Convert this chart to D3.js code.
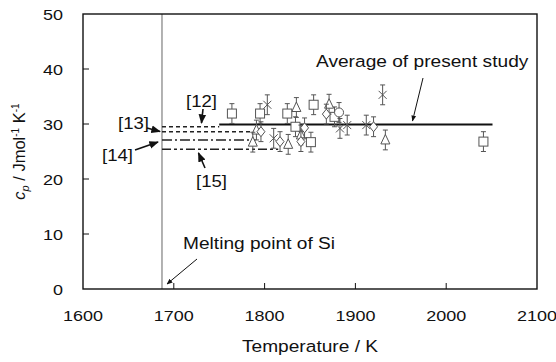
<!DOCTYPE html>
<html>
<head>
<meta charset="utf-8">
<script src="https://cdn.jsdelivr.net/npm/d3@7"></script>
<style>
  body { margin: 0; background: #fff; }
  svg { font-family: "Liberation Sans", Arial, sans-serif; }
</style>
</head>
<body>
<svg id="chart" width="556" height="362"></svg>
<script>
// x ticks and y ticks
const xTicks = [1600, 1700, 1800, 1900, 2000, 2100];
const yTicks = [0, 10, 20, 30, 40, 50];

// measured points (temperature K, cp J/mol/K)
const squareT = [1764, 1795, 1825, 1854, 1877, 1834, 1851, 2041];
const squareCp = [31.9, 31.9, 31.9, 33.5, 31.3, 29.5, 26.7, 26.8];
const triangleT = [1835, 1871, 1791, 1787, 1840, 1826, 1933];
const triangleCp = [33.0, 33.6, 28.9, 26.7, 28.0, 26.3, 27.1];
const crossT = [1803, 1883, 1891, 1912, 1930, 1810];
const crossCp = [33.5, 29.2, 29.8, 29.8, 35.3, 27.4];
const diamondT = [1868, 1796, 1817, 1844, 1840, 1920];
const diamondCp = [31.8, 28.6, 26.8, 29.3, 26.8, 29.5];
const circleT = [1882];
const circleCp = [32.1];
const errorBar = 1.8;

// average of present study
const avgCp = 29.9;
const avgRange = [1750, 2051];

// literature values
const litNames = ["[12]", "[13]", "[14]", "[15]"];
const litCp = [29.5, 28.6, 27.1, 25.4];
const litEnd = [1750, 1800, 1790, 1815];
const meltingT = 1687;

const svg = d3.select("#chart");
const margin = {left: 83, top: 14, right: 19, bottom: 73};
const W = 556 - margin.left - margin.right;
const H = 362 - margin.top - margin.bottom;
const SX = 1.16; // text in the original is a bit wide

const x = d3.scaleLinear().domain([1600, 2100]).range([margin.left, margin.left + W]);
const y = d3.scaleLinear().domain([0, 50]).range([margin.top + H, margin.top]);

const g = svg.append("g");

// melting line
g.append("line")
  .attr("x1", x(meltingT)).attr("x2", x(meltingT))
  .attr("y1", y(50)).attr("y2", y(0))
  .attr("stroke", "#666").attr("stroke-width", 1);

// literature lines
const dashes = ["4,3", "4,3", "10,3,2,3", "9,3,3,3,3,3"];
litCp.forEach((v, i) => {
  g.append("line")
    .attr("x1", x(meltingT)).attr("x2", x(litEnd[i]))
    .attr("y1", y(v)).attr("y2", y(v))
    .attr("stroke", "#222").attr("stroke-width", 1.5)
    .attr("stroke-dasharray", dashes[i]);
});

// average line
g.append("line")
  .attr("x1", x(avgRange[0])).attr("x2", x(avgRange[1]))
  .attr("y1", y(avgCp)).attr("y2", y(avgCp))
  .attr("stroke", "#111").attr("stroke-width", 2);

// error bars + markers
const pts = [];
squareT.forEach((t, i) => pts.push({t, v: squareCp[i], s: "square"}));
triangleT.forEach((t, i) => pts.push({t, v: triangleCp[i], s: "triangle"}));
crossT.forEach((t, i) => pts.push({t, v: crossCp[i], s: "cross"}));
diamondT.forEach((t, i) => pts.push({t, v: diamondCp[i], s: "diamond"}));
circleT.forEach((t, i) => pts.push({t, v: circleCp[i], s: "circle"}));

const mk = g.append("g").attr("stroke", "#555").attr("stroke-width", 1).attr("fill", "#fff");
pts.forEach(p => {
  const px = x(p.t), py = y(p.v);
  const top = y(p.v + errorBar), bot = y(p.v - errorBar);
  mk.append("line").attr("x1", px).attr("x2", px).attr("y1", top).attr("y2", bot);
  mk.append("line").attr("x1", px - 2.5).attr("x2", px + 2.5).attr("y1", top).attr("y2", top);
  mk.append("line").attr("x1", px - 2.5).attr("x2", px + 2.5).attr("y1", bot).attr("y2", bot);
  if (p.s === "square") {
    mk.append("rect").attr("x", px - 4.5).attr("y", py - 4.5).attr("width", 9).attr("height", 9);
  } else if (p.s === "triangle") {
    mk.append("path").attr("d", `M${px},${py - 5.5}L${px + 4.5},${py + 4}L${px - 4.5},${py + 4}Z`);
  } else if (p.s === "cross") {
    mk.append("path").attr("fill", "none")
      .attr("d", `M${px - 4},${py - 4}L${px + 4},${py + 4}M${px - 4},${py + 4}L${px + 4},${py - 4}`);
  } else if (p.s === "diamond") {
    mk.append("path").attr("d", `M${px},${py - 5}L${px + 4},${py}L${px},${py + 5}L${px - 4},${py}Z`);
  } else {
    mk.append("circle").attr("cx", px).attr("cy", py).attr("r", 4.5);
  }
});

// frame
g.append("rect")
  .attr("x", margin.left).attr("y", margin.top).attr("width", W).attr("height", H)
  .attr("fill", "none").attr("stroke", "#111").attr("stroke-width", 1.4);

// inside ticks
xTicks.slice(1, -1).forEach(t => {
  g.append("line").attr("x1", x(t)).attr("x2", x(t))
    .attr("y1", y(0)).attr("y2", y(0) - 6).attr("stroke", "#111");
});
yTicks.slice(1, -1).forEach(t => {
  g.append("line").attr("x1", x(1600)).attr("x2", x(1600) + 6)
    .attr("y1", y(t)).attr("y2", y(t)).attr("stroke", "#111");
});

function txt(tx, ty, s, size, anchor) {
  return g.append("text")
    .attr("transform", `translate(${tx},${ty}) scale(${SX},1)`)
    .attr("font-size", size).attr("fill", "#111")
    .attr("text-anchor", anchor || "start").text(s);
}

// tick labels
xTicks.forEach(d => txt(x(d), y(0) + 32, d, 15.5, "middle"));
yTicks.forEach(d => txt(63, y(d) + 5.5, d, 15.5, "end"));

// axis titles
txt(x(1850), 352, "Temperature / K", 16.5, "middle");

const yl = g.append("text")
  .attr("transform", `translate(25,${y(25)}) rotate(-90)`)
  .attr("text-anchor", "middle").attr("font-size", 16.5).attr("fill", "#111");
yl.append("tspan").attr("font-style", "italic").text("c");
yl.append("tspan").attr("font-style", "italic").attr("font-size", 11).attr("dy", 4).text("p");
yl.append("tspan").attr("dy", -4).text(" / Jmol");
yl.append("tspan").attr("font-size", 10).attr("dy", -6).text("-1");
yl.append("tspan").attr("dy", 6).text(" K");
yl.append("tspan").attr("font-size", 10).attr("dy", -6).text("-1");

// annotations
const defs = svg.append("defs");
defs.append("marker").attr("id", "ah").attr("viewBox", "0 0 10 10")
  .attr("refX", 9).attr("refY", 5).attr("markerWidth", 6).attr("markerHeight", 6)
  .attr("orient", "auto")
  .append("path").attr("d", "M0,1L10,5L0,9Z").attr("fill", "#111");

function arrow(x1, y1, x2, y2, w) {
  g.append("line").attr("x1", x1).attr("y1", y1).attr("x2", x2).attr("y2", y2)
    .attr("stroke", "#111").attr("stroke-width", w || 1.6).attr("marker-end", "url(#ah)");
}

txt(316, 67, "Average of present study", 16.5);
arrow(423, 78, 412.5, 121, 1);

txt(183, 249, "Melting point of Si", 16.5);
arrow(197, 259, 167, 284, 1);

txt(186, 107, litNames[0], 16);
arrow(203, 109, 201.5, 123);
txt(118, 129, litNames[1], 16);
arrow(147, 128, 160, 131.5);
txt(102, 161, litNames[2], 16);
arrow(135, 150, 158, 142);
txt(196, 187, litNames[3], 16);
arrow(205, 168, 198.5, 153);
</script>
</body>
</html>
